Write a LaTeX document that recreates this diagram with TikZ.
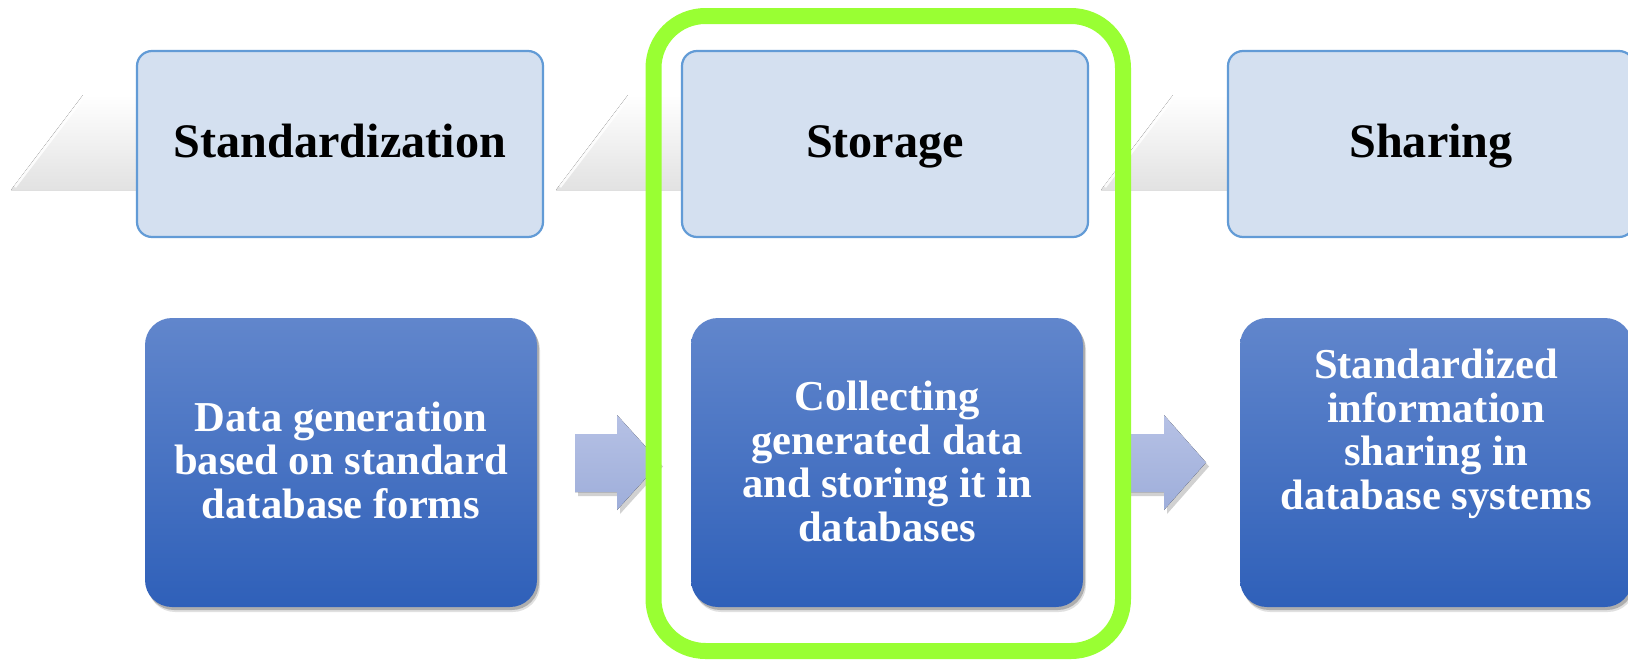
\documentclass[tikz,border=0pt]{standalone}
\usepackage{fontspec}
\setmainfont{Liberation Serif}
\usetikzlibrary{shadows}
\definecolor{hdrfill}{RGB}{212,224,240}
\definecolor{hdrline}{RGB}{98,155,214}
\definecolor{bodytop}{RGB}{97,134,204}
\definecolor{bodybot}{RGB}{47,96,185}
\definecolor{arrtop}{RGB}{182,193,229}
\definecolor{arrbot}{RGB}{158,174,218}
\definecolor{hilite}{RGB}{153,255,51}
\definecolor{chevbot}{RGB}{226,226,226}
\begin{document}
\begin{tikzpicture}[x=1pt,y=-1pt,
  chev/.style={top color=white, bottom color=chevbot, draw=none},
  chevedge/.style={white, line width=2.5pt, opacity=0.85},
  hdr/.style={rectangle, rounded corners=15pt, draw=hdrline, line width=2.2pt,
    fill=hdrfill, minimum width=406pt, minimum height=186pt, inner sep=0pt,
    text height=33pt, text depth=7pt,
    font=\fontsize{48.2}{58}\selectfont\bfseries, text=black},
  bodybox/.style={rectangle, rounded corners=27pt, draw=none,
    top color=bodytop, bottom color=bodybot,
    minimum width=392pt, minimum height=289pt, inner sep=0pt,
    drop shadow={shadow xshift=3pt, shadow yshift=-5pt, opacity=0.12, fill=black},
    drop shadow={shadow xshift=2pt, shadow yshift=-3pt, opacity=0.22, fill=black}},
  bodytext/.style={align=center, inner sep=0pt, text=white,
    font=\fontsize{42.6}{43.5}\selectfont\bfseries},
  blockarrow/.style={top color=arrtop, bottom color=arrbot, draw=none,
    drop shadow={shadow xshift=3pt, shadow yshift=-4pt, opacity=0.18, fill=black}},
  frame/.style={draw=hilite, line width=16pt, rounded corners=52pt}
]
\useasboundingbox (0,0) rectangle (1628,659);
\clip (0,0) rectangle (1628,659);
\fill[white] (0,0) rectangle (1628,659);

% background chevrons
\foreach \dx in {0,545,1090}{
  \begin{scope}[xshift=\dx pt]
    \fill[chev] (11,190) -- (83,95) -- (420,95) -- (420,190) -- cycle;
    \draw[chevedge] (15,187) -- (84,97);
  \end{scope}
}

% header boxes
\node[hdr] (h1) at (340,144) {Standardization};
\node[hdr] (h2) at (885,144) {Storage};
\node[hdr] (h3) at (1431,144) {Sharing};

% body boxes
\node[bodybox] (b1) at (341,462.5) {};
\node[bodybox] (b2) at (887,462.5) {};
\node[bodybox] (b3) at (1436,462.5) {};

\node[bodytext] (t1) at (341,460) {Data generation\\based on standard\\database forms};
\node[bodytext] (t2) at (887,461.5) {Collecting\\generated data\\and storing it in\\databases};
\node[bodytext] (t3) at (1436,434) {Standardized\\information\\sharing in\\database systems};

% block arrows
\fill[blockarrow] (575,434) -- (617,434) -- (617,415) -- (660,462.5) -- (617,510) -- (617,492) -- (575,492) -- cycle;
\fill[blockarrow] (1122,434) -- (1164,434) -- (1164,415) -- (1206,462.5) -- (1164,510) -- (1164,492) -- (1122,492) -- cycle;

% highlight frame
\draw[frame] (653.5,16) rectangle (1123,651);
\end{tikzpicture}
\end{document}
